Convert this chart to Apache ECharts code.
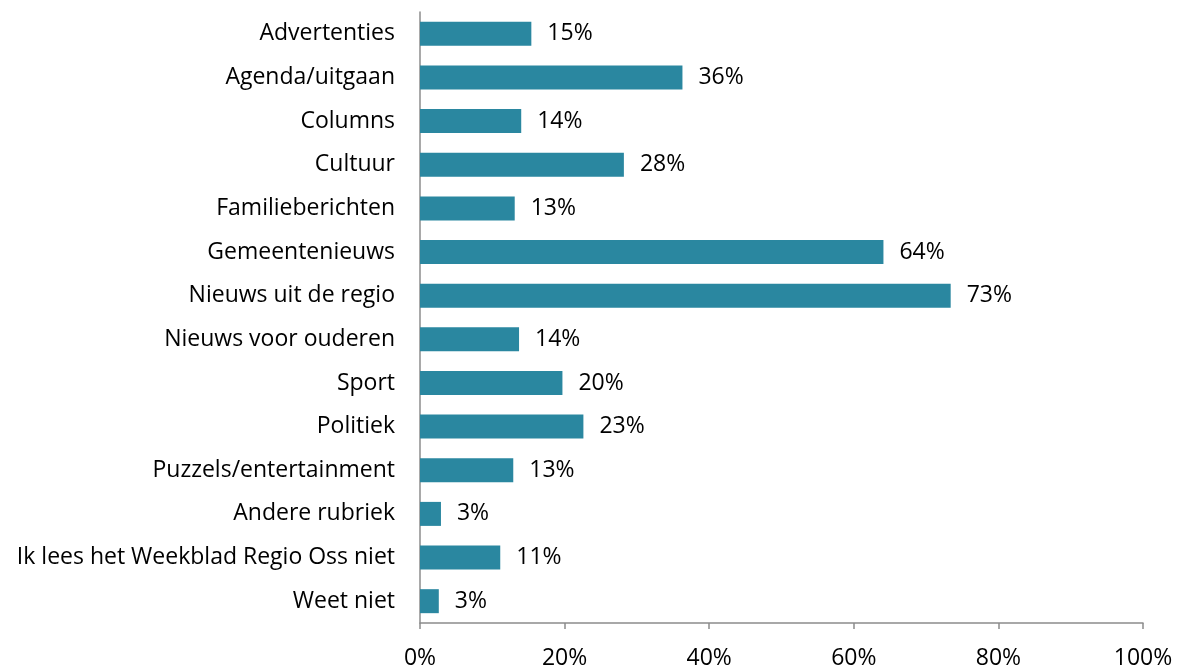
<!DOCTYPE html>
<html>
<head>
<meta charset="utf-8">
<script src="https://cdn.jsdelivr.net/npm/echarts@6/dist/echarts.min.js"></script>
<style>
  html, body { margin: 0; padding: 0; background: #fff; }
  #chart { width: 1180px; height: 670px; }
</style>
</head>
<body>
<div id="chart"></div>
<script>
// rubrieken, van boven naar beneden
const categories = [
  'Advertenties', 'Agenda/uitgaan', 'Columns', 'Cultuur', 'Familieberichten',
  'Gemeentenieuws', 'Nieuws uit de regio', 'Nieuws voor ouderen', 'Sport',
  'Politiek', 'Puzzels/entertainment', 'Andere rubriek',
  'Ik lees het Weekblad Regio Oss niet', 'Weet niet'
];
const values = [15.4, 36.3, 14.0, 28.2, 13.1, 64.1, 73.4, 13.7, 19.7, 22.6, 12.9, 2.9, 11.1, 2.6];
const xTicks = [0, 20, 40, 60, 80, 100];

const chart = echarts.init(document.getElementById('chart'));
const axisColor = '#8c8c8c';
const font = '"Open Sans", sans-serif';
const fontSize = 23;

chart.setOption({
  animation: false,
  grid: { left: 420, right: 37, top: 12, bottom: 46, containLabel: false },
  xAxis: {
    type: 'value',
    min: xTicks[0],
    max: xTicks[xTicks.length - 1],
    interval: 20,
    axisLine: { show: true, lineStyle: { color: axisColor, width: 1.5 } },
    axisTick: { show: true, length: 6, lineStyle: { color: axisColor, width: 1.5 } },
    splitLine: { show: false },
    axisLabel: {
      color: '#000',
      fontSize: fontSize,
      fontFamily: font,
      margin: 24,
      formatter: v => v + '%'
    }
  },
  yAxis: {
    type: 'category',
    data: categories,
    inverse: true,
    axisLine: { show: true, lineStyle: { color: axisColor, width: 1.5 } },
    axisTick: { show: false },
    axisLabel: {
      color: '#000',
      fontSize: fontSize,
      fontFamily: font,
      margin: 25
    }
  },
  series: [{
    type: 'bar',
    data: values,
    barWidth: 24,
    itemStyle: { color: '#2a87a0' },
    label: {
      show: true,
      position: 'right',
      distance: 16,
      color: '#000',
      fontSize: fontSize,
      fontFamily: font,
      formatter: p => Math.round(p.value) + '%'
    }
  }]
});
</script>
</body>
</html>
